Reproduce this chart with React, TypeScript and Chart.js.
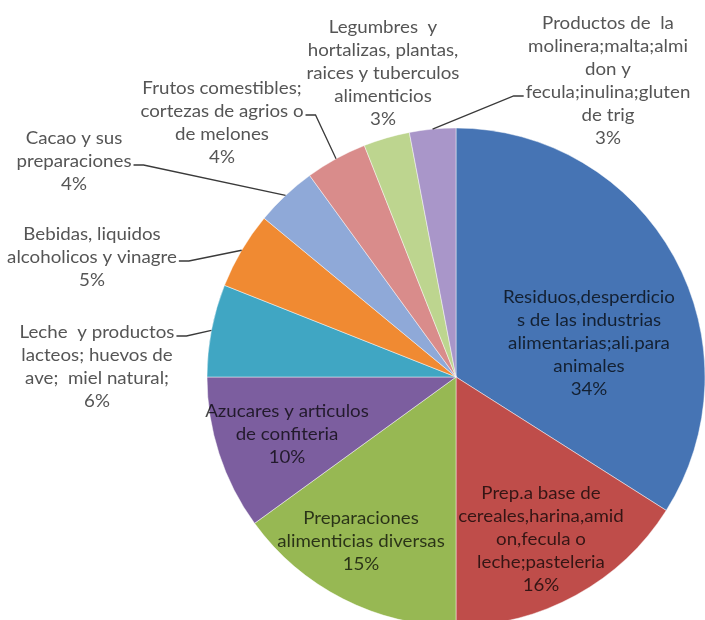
import React, { useEffect, useRef } from "react";
import { Chart, registerables } from "chart.js";

Chart.register(...registerables);

// ---- data ----
const categories = [
  "Residuos,desperdicios de las industrias alimentarias;ali.para animales",
  "Prep.a base de cereales,harina,amidon,fecula o leche;pasteleria",
  "Preparaciones alimenticias diversas",
  "Azucares y articulos de confiteria",
  "Leche y productos lacteos; huevos de ave; miel natural;",
  "Bebidas, liquidos alcoholicos y vinagre",
  "Cacao y sus preparaciones",
  "Frutos comestibles; cortezas de agrios o de melones",
  "Legumbres y hortalizas, plantas, raices y tuberculos alimenticios",
  "Productos de la molinera;malta;almidon y fecula;inulina;gluten de trig",
];
const shares = [34, 16, 15, 10, 6, 5, 4, 4, 3, 3];
const labelLines = [
  ["Residuos,desperdicio", "s de las industrias", "alimentarias;ali.para", "animales"],
  ["Prep.a base de", "cereales,harina,amid", "on,fecula o", "leche;pasteleria"],
  ["Preparaciones", "alimenticias diversas"],
  ["Azucares y articulos", "de confiteria"],
  ["Leche  y productos", "lacteos; huevos de", "ave;  miel natural;"],
  ["Bebidas, liquidos", "alcoholicos y vinagre"],
  ["Cacao y sus", "preparaciones"],
  ["Frutos comestibles;", "cortezas de agrios o", "de melones"],
  ["Legumbres  y", "hortalizas, plantas,", "raices y tuberculos", "alimenticios"],
  ["Productos de  la", "molinera;malta;almi", "don y", "fecula;inulina;gluten", "de trig"],
];
const sliceColors = [
  "#4674B4", "#BF4D4A", "#97B853", "#7C5E9F", "#40A6C3",
  "#F08A32", "#8FA9D8", "#D98C8B", "#BDD58F", "#A996C9",
];

// ---- layout / style ----
const FONT = "Lato, 'Open Sans', sans-serif";
const FONT_SIZE = 18;
const SCALE_X = 1.04;
const LINE_H = 23;
const OUTSIDE_COLOR = "#555555";
const INSIDE_COLOR = "rgba(0,0,0,0.72)";
const labelLayout: Array<{ x: number; y: number; inside: boolean; leader?: { line: number; side: "left" | "right" } }> = [
  { x: 589, y: 297, inside: true },
  { x: 541, y: 493, inside: true },
  { x: 361, y: 518, inside: true },
  { x: 287, y: 411, inside: true },
  { x: 97, y: 332, inside: false, leader: { line: 0, side: "right" } },
  { x: 92, y: 234, inside: false, leader: { line: 1, side: "right" } },
  { x: 74, y: 138, inside: false, leader: { line: 1, side: "right" } },
  { x: 222, y: 88, inside: false, leader: { line: 1, side: "right" } },
  { x: 383, y: 27, inside: false },
  { x: 608, y: 23, inside: false, leader: { line: 3, side: "left" } },
];

function drawText(ctx: CanvasRenderingContext2D, t: string, x: number, y: number) {
  ctx.save();
  ctx.translate(x, y);
  ctx.scale(SCALE_X, 1);
  ctx.fillText(t, 0, 0);
  ctx.restore();
}

const labelPlugin = {
  id: "sliceLabels",
  afterDatasetsDraw(chart: any) {
    const ctx: CanvasRenderingContext2D = chart.ctx;
    const meta = chart.getDatasetMeta(0);
    const values = chart.data.datasets[0].data as number[];
    const total = values.reduce((a, b) => a + b, 0);
    ctx.save();
    ctx.font = `${FONT_SIZE}px ${FONT}`;
    ctx.textAlign = "center";
    ctx.textBaseline = "middle";
    meta.data.forEach((arc: any, i: number) => {
      const p = arc.getProps(["x", "y", "startAngle", "endAngle", "outerRadius"], true);
      const lay = labelLayout[i];
      const lines = [...labelLines[i], Math.round((values[i] / total) * 100) + "%"];
      ctx.fillStyle = lay.inside ? INSIDE_COLOR : OUTSIDE_COLOR;
      lines.forEach((t, k) => drawText(ctx, t, lay.x, lay.y + k * LINE_H));
      if (lay.leader) {
        const k = lay.leader.line;
        const ly = lay.y + k * LINE_H + 4;
        const w = ctx.measureText(labelLines[i][k]).width * SCALE_X;
        const dir = lay.leader.side === "right" ? 1 : -1;
        const sx = lay.x + dir * (w / 2 + 2);
        const ex = sx + dir * 10;
        const mid = (p.startAngle + p.endAngle) / 2;
        const px = p.x + Math.cos(mid) * p.outerRadius;
        const py = p.y + Math.sin(mid) * p.outerRadius;
        ctx.beginPath();
        ctx.strokeStyle = "#3a3a3a";
        ctx.lineWidth = 1.3;
        ctx.moveTo(sx, ly);
        ctx.lineTo(ex, ly);
        ctx.lineTo(px, py);
        ctx.stroke();
      }
    });
    ctx.restore();
  },
};

export default function App() {
  const ref = useRef<HTMLCanvasElement | null>(null);
  useEffect(() => {
    document.body.style.margin = "0";
    const canvas = ref.current!;
    const chart = new Chart(canvas, {
      type: "pie",
      data: {
        labels: categories,
        datasets: [
          {
            data: shares,
            backgroundColor: sliceColors,
            borderColor: "rgba(255,255,255,0.45)",
            borderWidth: 1,
          },
        ],
      },
      options: {
        responsive: false,
        animation: false,
        devicePixelRatio: 1,
        radius: 249,
        layout: { padding: { left: 207, right: 0, top: 128, bottom: 14 } },
        plugins: {
          legend: { display: false },
          tooltip: { enabled: false },
        },
      } as any,
      plugins: [labelPlugin],
    });
    return () => chart.destroy();
  }, []);
  return (
    <div
      style={{
        position: "fixed",
        left: 0,
        top: 0,
        width: 705,
        height: 620,
        overflow: "hidden",
        background: "#ffffff",
      }}
    >
      <canvas ref={ref} width={705} height={640} style={{ width: 705, height: 640, display: "block" }} />
    </div>
  );
}
